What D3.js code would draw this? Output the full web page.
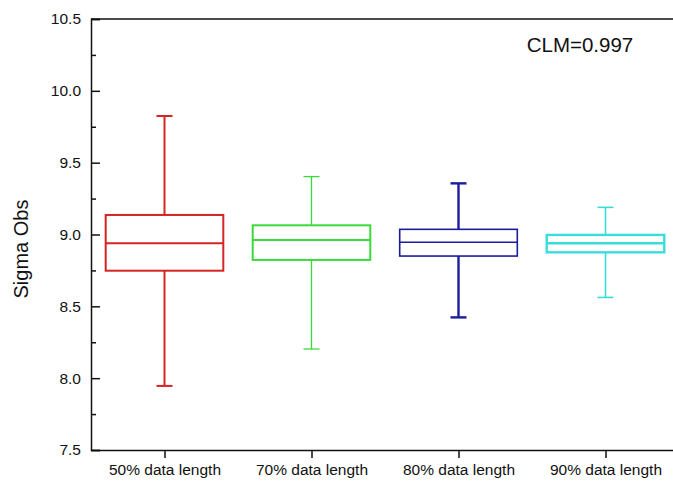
<!DOCTYPE html>
<html>
<head>
<meta charset="utf-8">
<script src="https://cdn.jsdelivr.net/npm/d3@7"></script>
<style>
  html, body { margin: 0; padding: 0; background: #fff; }
  svg { display: block; }
  text { font-family: Arial, "Liberation Sans", sans-serif; fill: #111; }
</style>
</head>
<body>
<svg id="chart" width="673" height="484"></svg>
<script>
// ---- data ----
const categories = ["50% data length", "70% data length", "80% data length", "90% data length"];
const whiskerLow  = [7.946, 8.203, 8.423, 8.562];
const q1          = [8.748, 8.823, 8.850, 8.876];
const median      = [8.939, 8.962, 8.946, 8.939];
const q3          = [9.136, 9.064, 9.036, 8.997];
const whiskerHigh = [9.825, 9.403, 9.356, 9.189];
const yTicks = [7.5, 8.0, 8.5, 9.0, 9.5, 10.0, 10.5];
const yMinorTicks = [7.75, 8.25, 8.75, 9.25, 9.75, 10.25];
const annotation = "CLM=0.997";
const yLabel = "Sigma Obs";

// ---- styles ----
const colors = ["#d42424", "#3ada3a", "#1c1c9e", "#3adcdc"];
const boxStroke = [2, 2, 1.6, 2.4];
const whiskerStroke = [2, 1.3, 2.4, 1.6];

(function () {
const svg = d3.select("#chart");
const mLeft = 91, mTop = 19, mBottom = 450, mRight = 679;

const x = d3.scalePoint().domain(categories).range([mLeft, mRight]).padding(0.5);
const y = d3.scaleLinear().domain([7.5, 10.5]).range([mBottom, mTop]);
const boxW = x.step() * 0.8;
const capW = 16;

const data = categories.map((c, i) => ({
  c, lo: whiskerLow[i], q1: q1[i], med: median[i], q3: q3[i], hi: whiskerHigh[i], i
}));

const g = svg.append("g");
data.forEach(d => {
  const cx = x(d.c);
  const col = colors[d.i];
  const ws = whiskerStroke[d.i], bs = boxStroke[d.i];
  g.append("line").attr("x1", cx).attr("x2", cx).attr("y1", y(d.q3)).attr("y2", y(d.hi))
    .attr("stroke", col).attr("stroke-width", ws);
  g.append("line").attr("x1", cx).attr("x2", cx).attr("y1", y(d.q1)).attr("y2", y(d.lo))
    .attr("stroke", col).attr("stroke-width", ws);
  g.append("line").attr("x1", cx - capW / 2).attr("x2", cx + capW / 2).attr("y1", y(d.hi)).attr("y2", y(d.hi))
    .attr("stroke", col).attr("stroke-width", ws);
  g.append("line").attr("x1", cx - capW / 2).attr("x2", cx + capW / 2).attr("y1", y(d.lo)).attr("y2", y(d.lo))
    .attr("stroke", col).attr("stroke-width", ws);
  g.append("rect").attr("x", cx - boxW / 2).attr("y", y(d.q3))
    .attr("width", boxW).attr("height", y(d.q1) - y(d.q3))
    .attr("fill", "none").attr("stroke", col).attr("stroke-width", bs);
  g.append("line").attr("x1", cx - boxW / 2).attr("x2", cx + boxW / 2).attr("y1", y(d.med)).attr("y2", y(d.med))
    .attr("stroke", col).attr("stroke-width", bs);
});

svg.append("line").attr("x1", mLeft).attr("x2", mRight).attr("y1", mTop).attr("y2", mTop)
  .attr("stroke", "#111").attr("stroke-width", 1.5);

const yAxis = d3.axisLeft(y).tickValues(yTicks).tickSize(-9).tickPadding(10)
  .tickFormat(d3.format(".1f"));
const ya = svg.append("g").attr("transform", `translate(${mLeft},0)`).call(yAxis);
ya.select(".domain").attr("stroke", "#111").attr("stroke-width", 1.5);
ya.selectAll(".tick line").attr("stroke", "#111").attr("stroke-width", 1.5);
ya.selectAll(".tick text").attr("font-size", 15.5).attr("font-family", "Arial, 'Liberation Sans', sans-serif").attr("fill", "#111");

const yMinor = d3.axisLeft(y).tickValues(yMinorTicks).tickSize(-5).tickFormat("");
const ym = svg.append("g").attr("transform", `translate(${mLeft},0)`).call(yMinor);
ym.select(".domain").remove();
ym.selectAll(".tick line").attr("stroke", "#111").attr("stroke-width", 1.5);

const xAxis = d3.axisBottom(x).tickSize(8).tickPadding(6).tickSizeOuter(0);
const xa = svg.append("g").attr("transform", `translate(0,${mBottom})`).call(xAxis);
xa.select(".domain").attr("stroke", "#111").attr("stroke-width", 1.5);
xa.selectAll(".tick line").attr("stroke", "#111").attr("stroke-width", 1.5);
xa.selectAll(".tick text").attr("font-size", 15.5).attr("font-family", "Arial, 'Liberation Sans', sans-serif").attr("fill", "#111");

svg.append("text")
  .attr("transform", `translate(28,249) rotate(-90)`)
  .attr("text-anchor", "middle")
  .attr("font-size", 20)
  .text(yLabel);

svg.append("text")
  .attr("x", 580).attr("y", 52)
  .attr("text-anchor", "middle")
  .attr("font-size", 20.5)
  .text(annotation);
})();
</script>
</body>
</html>
